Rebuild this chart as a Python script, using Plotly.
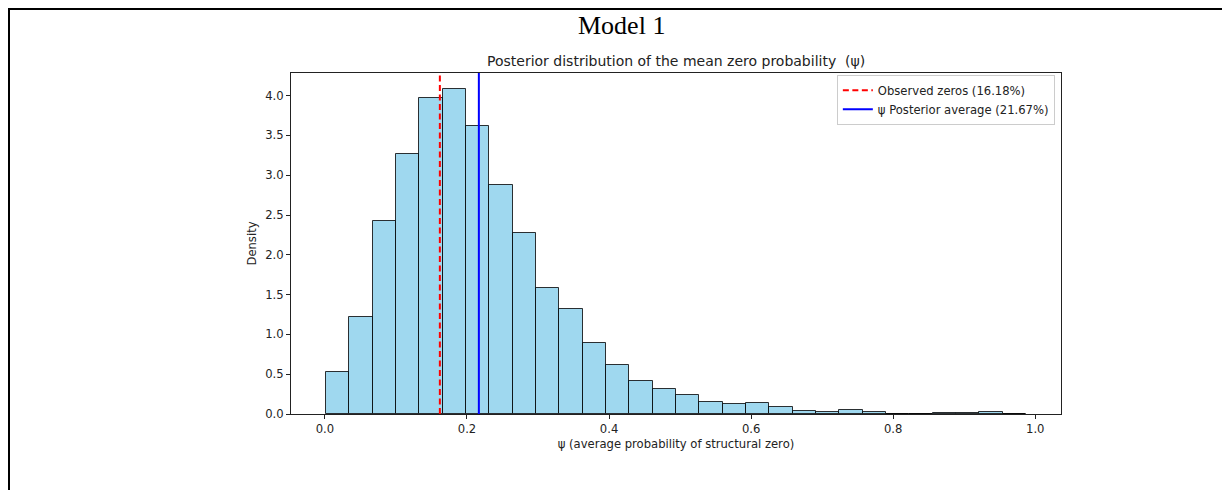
import numpy as np
import plotly.graph_objects as go

# Histogram (density) values, 30 bins
density = [0.53, 1.22, 2.43, 3.27, 3.97, 4.08, 3.62, 2.88, 2.28, 1.58,
           1.32, 0.89, 0.62, 0.42, 0.31, 0.24, 0.15, 0.13, 0.14, 0.09,
           0.035, 0.02, 0.05, 0.02, 0.005, 0.005, 0.013, 0.013, 0.025, 0.006]
bin_start = 0.0015
bin_end = 0.987
observed_zeros = 0.1618
posterior_avg = 0.2167
x_ticks = [0.0, 0.2, 0.4, 0.6, 0.8, 1.0]
y_ticks = [0.0, 0.5, 1.0, 1.5, 2.0, 2.5, 3.0, 3.5, 4.0]

edges = np.linspace(bin_start, bin_end, len(density) + 1)
centers = (edges[:-1] + edges[1:]) / 2
widths = np.diff(edges)

span = bin_end - bin_start
x_range = [bin_start - 0.05 * span, bin_end + 0.05 * span]
y_top = max(density) * 1.05

fig = go.Figure()
fig.add_trace(go.Bar(
    x=centers, y=density, width=widths,
    marker=dict(color="rgba(135,206,235,0.8)",
                line=dict(color="rgba(0,0,0,0.8)", width=1)),
    showlegend=False, hoverinfo="x+y",
))
fig.add_trace(go.Scatter(
    x=[observed_zeros, observed_zeros], y=[0, y_top], mode="lines",
    line=dict(color="red", width=2, dash="6px,3.5px"),
    name="Observed zeros (16.18%)",
))
fig.add_trace(go.Scatter(
    x=[posterior_avg, posterior_avg], y=[0, y_top], mode="lines",
    line=dict(color="blue", width=2),
    name="ψ Posterior average (21.67%)",
))

# page body adds an 8px offset; work in window pixels and subtract it
OFF = 8
W, H = 1230 - OFF, 490 - OFF
L = 291 - OFF
T = 73 - OFF
R = W - (1061 - OFF)
B = H - (414 - OFF)
pw, ph = W - L - R, H - T - B

def px_x(p):
    return (p - OFF - L) / pw

def px_y(p):
    return (H - B - (p - OFF)) / ph

FS = 11.6
axis_common = dict(
    showgrid=False, zeroline=False, showline=True, mirror=True,
    linecolor="#222", linewidth=1, ticks="outside", ticklen=4,
    tickcolor="#222", tickfont=dict(family="DejaVu Sans", size=FS, color="#222"),
)

fig.update_layout(
    width=W, height=H,
    margin=dict(l=L, r=R, t=T, b=B),
    paper_bgcolor="white", plot_bgcolor="white",
    bargap=0,
    xaxis=dict(range=x_range, tickvals=x_ticks, tickformat=".1f",
               title=dict(text="ψ (average probability of structural zero)",
                          font=dict(family="DejaVu Sans", size=FS, color="#222"),
                          standoff=4),
               **axis_common),
    yaxis=dict(range=[0, y_top], tickvals=y_ticks, tickformat=".1f",
               title=dict(text="Density",
                          font=dict(family="DejaVu Sans", size=FS, color="#222"),
                          standoff=6),
               **axis_common),
    legend=dict(x=0.992, y=0.995, xanchor="right", yanchor="top",
                bgcolor="white", bordercolor="#cccccc", borderwidth=1,
                font=dict(family="DejaVu Sans", size=FS, color="#222"),
                tracegroupgap=0),
    annotations=[
        dict(text="Model 1", xref="paper", yref="paper",
             x=px_x(621), y=px_y(26), xanchor="center", yanchor="middle",
             showarrow=False,
             font=dict(family="Liberation Serif", size=26, color="black")),
        dict(text="Posterior distribution of the mean zero probability  (ψ)",
             xref="paper", yref="paper", x=0.5, y=px_y(61),
             xanchor="center", yanchor="middle", showarrow=False,
             font=dict(family="DejaVu Sans", size=14, color="#222")),
    ],
    shapes=[
        dict(type="line", xref="paper", yref="paper",
             x0=px_x(9), x1=px_x(9), y0=px_y(8), y1=px_y(492),
             line=dict(color="black", width=2)),
        dict(type="line", xref="paper", yref="paper",
             x0=px_x(8), x1=px_x(1232), y0=px_y(9), y1=px_y(9),
             line=dict(color="black", width=2)),
    ],
)

fig.write_html("out.html")
